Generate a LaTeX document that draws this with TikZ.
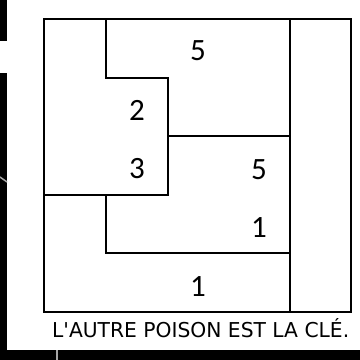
\documentclass[tikz,border=0pt]{standalone}
\usepackage{fontspec}
\setmainfont{Carlito}
\newfontfamily\captionfont{DejaVu Sans}
\begin{document}
\begin{tikzpicture}[x=1pt,y=-1pt,
  wall/.style={line width=2.3pt,line join=miter,line cap=rect},
  num/.style={font=\fontsize{31}{31}\selectfont,inner sep=0pt,anchor=center}]
\useasboundingbox (0,0) rectangle (360,360);
\fill[white] (0,0) rectangle (360,360);
% black fragments of neighbouring panels
\fill[black] (0,0) rectangle (7,41);
\fill[black] (0,73) rectangle (7,360);
\fill[black] (0,350) rectangle (360,360);
\draw[gray!70,line width=1.5pt] (0,177) -- (7,182);
\draw[gray!70,line width=2pt] (57,350) -- (57,360);
% grid
\draw[wall] (44,19) rectangle (351,312);
\draw[wall] (290,19) -- (290,312);
\draw[wall] (106,19) -- (106,78) -- (168,78) -- (168,195) -- (44,195);
\draw[wall] (168,136) -- (290,136);
\draw[wall] (106,195) -- (106,253) -- (290,253);
% numbers
\node[num] (n1) at (198,51) {5};
\node[num] (n2) at (137,110) {2};
\node[num] (n3) at (137,169) {3};
\node[num] (n4) at (259,170) {5};
\node[num] (n5) at (259,228) {1};
\node[num] (n6) at (198,287) {1};
% caption
\node[inner sep=0pt,anchor=base west] (cap) at (52,337.5)
  {\resizebox{297pt}{19pt}{\captionfont\fontsize{20}{20}\selectfont L'AUTRE POISON EST LA CLÉ.}};
\end{tikzpicture}
\end{document}
